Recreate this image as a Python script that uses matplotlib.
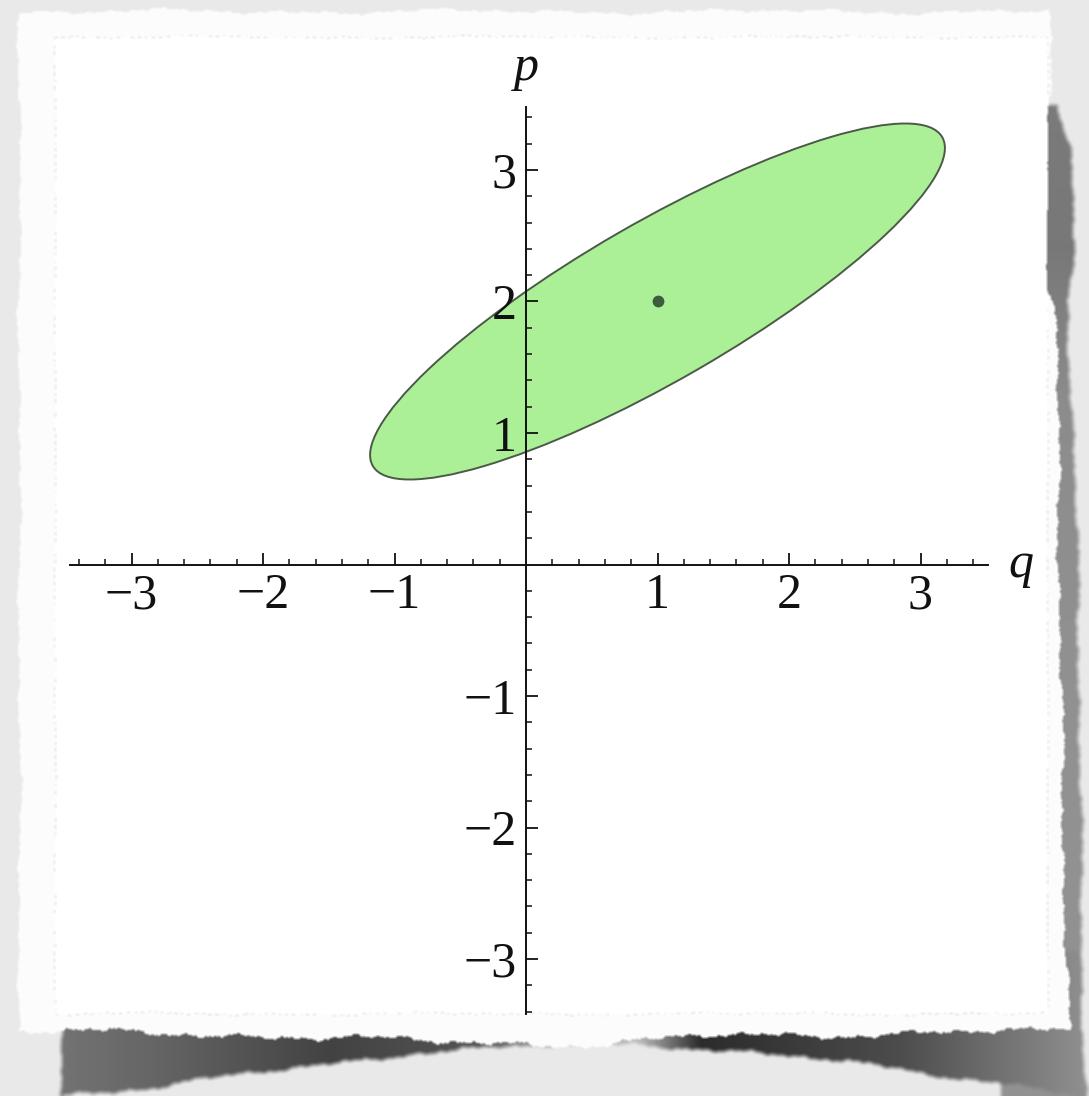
import numpy as np
import matplotlib
matplotlib.use("Agg")
import matplotlib.pyplot as plt
from matplotlib.patches import Ellipse
from matplotlib.ticker import FixedLocator, FixedFormatter

# ---- phase-space ellipse -------------------------------------------------
center_q, center_p = 1.0, 2.0
semi_major, semi_minor = 2.5, 0.6
tilt_deg = 30.0

# ---- axes ----------------------------------------------------------------
major_ticks = [-3, -2, -1, 1, 2, 3]
tick_labels = ["\u22123", "\u22122", "\u22121", "1", "2", "3"]
minor_ticks = [-3.4, -3.2, -2.8, -2.6, -2.4, -2.2, -1.8, -1.6, -1.4, -1.2,
               -0.8, -0.6, -0.4, -0.2, 0.2, 0.4, 0.6, 0.8, 1.2, 1.4, 1.6,
               1.8, 2.2, 2.4, 2.6, 2.8, 3.2, 3.4]
q_range = (-3.47, 3.51)
p_range = (-3.42, 3.48)

W, H, DPI = 1089, 1096, 100
SERIF = ["Liberation Serif", "DejaVu Serif"]


def rough(t, amp, seed):
    """Deterministic jagged offset used for the torn paper edges."""
    freqs = [0.021, 0.047, 0.113, 0.261, 0.587, 1.31]
    weights = [1.0, 0.8, 0.6, 0.45, 0.3, 0.2]
    out = np.zeros_like(t, dtype=float)
    for k, (f, w) in enumerate(zip(freqs, weights)):
        out += w * np.sin(f * t + 1.3 * seed * (k + 1) + 0.7 * k)
    return amp * out / sum(weights)


def box_blur(a, r):
    n = 2 * r + 1
    for axis in (0, 1):
        pad = [(r, r) if ax == axis else (0, 0) for ax in (0, 1)]
        p = np.pad(a, pad, mode="edge")
        c = np.insert(np.cumsum(p, axis=axis), 0, 0, axis=axis)
        if axis == 0:
            a = (c[n:, :] - c[:-n, :]) / n
        else:
            a = (c[:, n:] - c[:, :-n]) / n
    return a


# ---- torn paper backdrop ---------------------------------------------------
xs = np.arange(W, dtype=float)
ys = np.arange(H, dtype=float)
yy, xx = np.mgrid[0:H, 0:W].astype(float)

bg = np.full((H, W), 0.914)

# shadow under the bottom edge
sb = np.interp(xs, [62, 150, 300, 420, 560, 640, 700, 850, 1000, 1075],
               [1094, 1088, 1066, 1052, 1045, 1043, 1048, 1062, 1082, 1095]) + rough(xs, 5, 5)
shade_b = np.interp(xs, [62, 150, 330, 480, 560, 640, 700, 900, 1075],
                    [0.45, 0.40, 0.26, 0.33, 0.72, 0.72, 0.17, 0.30, 0.55])
left_sh = 62 + rough(ys, 3, 6)
mask_b = (xx >= left_sh[:, None]) & (xx <= 1080) & (yy <= sb[None, :]) & (yy > 950)
bg = np.where(mask_b, np.minimum(bg, shade_b[None, :]), bg)

# shadow along the right edge
sr = np.interp(ys, [0, 110, 150, 250, 300, 400, 600, 800, 1000, 1096],
               [1050, 1060, 1070, 1074, 1066, 1072, 1078, 1080, 1082, 1085]) + rough(ys, 4, 7)
shade_r = np.interp(ys, [110, 250, 400, 700, 1096], [0.48, 0.47, 0.55, 0.57, 0.57])
mask_r = (xx <= sr[:, None]) & (yy >= 105) & (xx > 1000)
bg = np.where(mask_r, np.minimum(bg, shade_r[:, None]), bg)
bg = box_blur(bg, 2)

# the paper sheet
top_e = 11 + rough(xs, 5, 1)
bot_e = np.interp(xs, [0, 300, 450, 600, 700, 1089],
                  [1030, 1036, 1042, 1044, 1036, 1030]) + rough(xs, 7, 2)
left_e = 19 + rough(ys, 4, 3)
right_e = np.interp(ys, [0, 100, 180, 250, 320, 500, 800, 1050, 1096],
                    [1052, 1048, 1038, 1042, 1056, 1058, 1062, 1068, 1068]) + rough(ys, 5, 4)
paper = ((yy >= top_e[None, :]) & (yy <= bot_e[None, :]) &
         (xx >= left_e[:, None]) & (xx <= right_e[:, None]))

in_l = 55 + rough(ys, 1.5, 8)
in_r = 1047 + rough(ys, 1.5, 9)
in_t = 37 + rough(xs, 2.5, 10)
in_b = 1013 + rough(xs, 3.0, 11)
inner = ((xx >= in_l[:, None]) & (xx <= in_r[:, None]) &
         (yy >= in_t[None, :]) & (yy <= in_b[None, :]))
rim = (((np.abs(xx - in_l[:, None]) < 0.7) | (np.abs(xx - in_r[:, None]) < 0.7)) &
       (yy >= in_t[None, :]) & (yy <= in_b[None, :])) | \
      (((np.abs(yy - in_t[None, :]) < 0.7) | (np.abs(yy - in_b[None, :]) < 0.7)) &
       (xx >= in_l[:, None]) & (xx <= in_r[:, None]))
dots = (np.sin(0.9 * (xx + yy)) > 0.1)

img = np.where(paper, 0.99, bg)
img = np.where(paper & rim & dots, 0.84, img)
img = np.where(inner, 1.0, img)
img = box_blur(img, 1)

fig = plt.figure(figsize=(W / DPI, H / DPI), dpi=DPI)
ax_bg = fig.add_axes([0, 0, 1, 1], zorder=0)
ax_bg.imshow(np.dstack([img] * 3).clip(0, 1), extent=(0, W, H, 0),
             interpolation="nearest", aspect="auto")
ax_bg.set_xlim(0, W)
ax_bg.set_ylim(H, 0)
ax_bg.axis("off")

# ---- the plot --------------------------------------------------------------
ox, oy, unit = 526.0, 564.5, 131.5
left_px = ox + q_range[0] * unit
bottom_px = oy - p_range[0] * unit
ax = fig.add_axes([left_px / W, (H - bottom_px) / H,
                   (q_range[1] - q_range[0]) * unit / W,
                   (p_range[1] - p_range[0]) * unit / H], zorder=1)
ax.set_facecolor("none")
ax.set_xlim(*q_range)
ax.set_ylim(*p_range)

ell = Ellipse((center_q, center_p), 2 * semi_major, 2 * semi_minor, angle=tilt_deg,
              facecolor="#abf097", edgecolor="#4a5a47", linewidth=1.4, zorder=1)
ax.add_patch(ell)
ax.plot([center_q], [center_p], "o", ms=8.5, color="#3d5c3d", mec="none", zorder=3)

for side in ("top", "right"):
    ax.spines[side].set_visible(False)
for side in ("left", "bottom"):
    ax.spines[side].set_position(("data", 0))
    ax.spines[side].set_linewidth(1.4)
    ax.spines[side].set_color("#111111")

for axis in (ax.xaxis, ax.yaxis):
    axis.set_major_locator(FixedLocator(major_ticks))
    axis.set_major_formatter(FixedFormatter(tick_labels))
    axis.set_minor_locator(FixedLocator(minor_ticks))

ax.tick_params(which="major", direction="in", length=8.5, width=1.3, color="#111111",
               labelsize=36, labelcolor="#111111")
ax.tick_params(which="minor", direction="in", length=4.3, width=1.1, color="#111111")
ax.tick_params(axis="x", which="major", pad=6)
ax.tick_params(axis="y", which="major", pad=7)
for lab in ax.get_xticklabels() + ax.get_yticklabels():
    lab.set_family(SERIF)

ax.text(3.665, 0.0, "q", ha="left", va="center", fontsize=36, style="italic",
        family=SERIF, color="#111111", clip_on=False)
ax.text(0.0, 3.78, "p", ha="center", va="center", fontsize=36, style="italic",
        family=SERIF, color="#111111", clip_on=False)

fig.savefig("out.png", dpi=DPI)
